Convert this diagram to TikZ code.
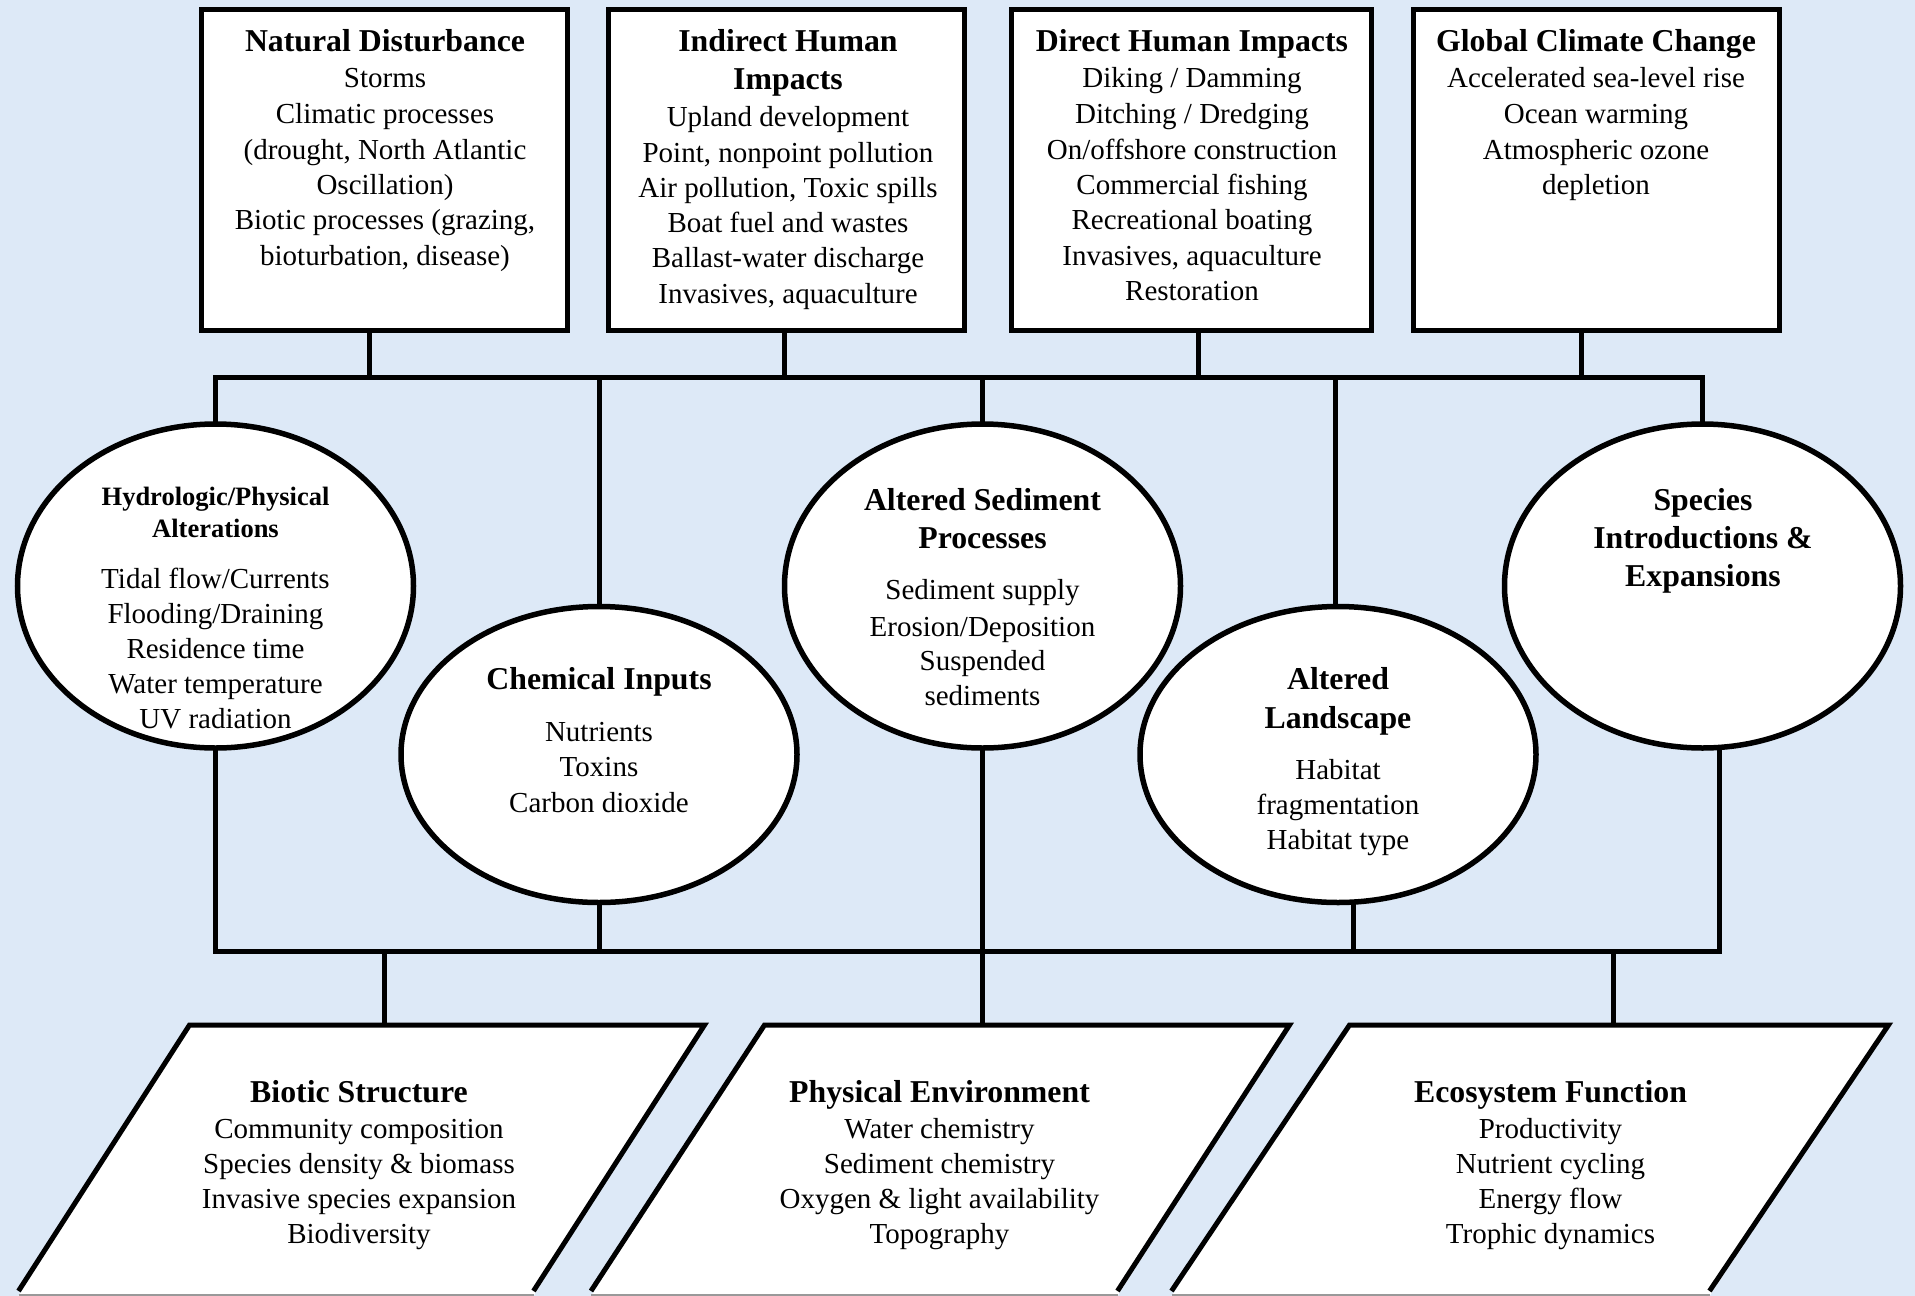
\documentclass[tikz,border=0pt]{standalone}
\usepackage{fontspec}
\setmainfont{Liberation Serif}
\usetikzlibrary{shapes.geometric}
\definecolor{bgblue}{RGB}{221,233,247}
\newcounter{lnc}
\newcommand\tline[4]{\stepcounter{lnc}\node[#1] (ln\arabic{lnc}) at (#2,#3) {#4};}
\begin{document}
\begin{tikzpicture}[x=1pt,y=-1pt,
  conn/.style={line width=5pt},
  boxnode/.style={draw,line width=5pt,fill=white,rectangle,inner sep=0pt,outer sep=0pt},
  ell/.style={draw,line width=5.5pt,fill=white,ellipse,inner sep=0pt,outer sep=0pt},
  body/.style={anchor=base,inner sep=0pt,font=\fontsize{29}{35}\selectfont},
  head/.style={anchor=base,inner sep=0pt,font=\fontsize{31.8}{38}\selectfont\bfseries},
  headsm/.style={anchor=base,inner sep=0pt,font=\fontsize{26.5}{32}\selectfont\bfseries},
  para/.style={draw,line width=5pt,line join=miter},
  parafill/.style={fill=white},
  edge/.style={draw=gray!80,line width=1.5pt}]
\useasboundingbox (0,0) rectangle (1915,1296);
\clip (0,0) rectangle (1915,1296);
\fill[bgblue] (0,0) rectangle (1915,1296);

% ---------- top boxes ----------
\node[boxnode,minimum width=366pt,minimum height=321pt] (b1) at (384.5,170) {};
\node[boxnode,minimum width=356pt,minimum height=321pt] (b2) at (786.5,170) {};
\node[boxnode,minimum width=360pt,minimum height=321pt] (b3) at (1191.5,170) {};
\node[boxnode,minimum width=366pt,minimum height=321pt] (b4) at (1596.5,170) {};

% ---------- ellipses ----------
\node[ell,minimum width=396pt,minimum height=324pt] (hydro) at (215.5,586) {};
\node[ell,minimum width=396pt,minimum height=296pt] (chem) at (599,754.5) {};
\node[ell,minimum width=396pt,minimum height=324pt] (sed) at (982.5,586) {};
\node[ell,minimum width=396pt,minimum height=296pt] (land) at (1338,754.5) {};
\node[ell,minimum width=396pt,minimum height=324pt] (spec) at (1702.5,586) {};

% ---------- bus coordinates ----------
\coordinate (t1) at (369.5,377.5);
\coordinate (t2) at (784,377.5);
\coordinate (t3) at (1198,377.5);
\coordinate (t4) at (1581,377.5);
\coordinate (d1) at (215.5,377.5);
\coordinate (d2) at (599,377.5);
\coordinate (d3) at (982.5,377.5);
\coordinate (d4) at (1335,377.5);
\coordinate (d5) at (1702.5,377.5);
\coordinate (e1) at (215.5,951);
\coordinate (e2) at (599,951);
\coordinate (e3) at (982.5,951);
\coordinate (e4) at (1353,951);
\coordinate (e5) at (1719,951);
\coordinate (f1) at (384.5,951);
\coordinate (f3) at (1613,951);

% ---------- parallelograms ----------
\coordinate (p1tl) at (189.5,1025); \coordinate (p1tr) at (704.5,1025);
\coordinate (p1br) at (533.5,1296); \coordinate (p1bl) at (18.5,1296);
\coordinate (p2tl) at (764.5,1025); \coordinate (p2tr) at (1289.5,1025);
\coordinate (p2br) at (1117.5,1296); \coordinate (p2bl) at (591,1296);
\coordinate (p3tl) at (1349.5,1025); \coordinate (p3tr) at (1888.5,1025);
\coordinate (p3br) at (1709.5,1296); \coordinate (p3bl) at (1171.5,1296);
\coordinate (p1top) at (384.5,1025);
\coordinate (p2top) at (982.5,1025);
\coordinate (p3top) at (1613,1025);

\fill[parafill] (p1bl) -- (p1tl) -- (p1tr) -- (p1br) -- cycle;
\fill[parafill] (p2bl) -- (p2tl) -- (p2tr) -- (p2br) -- cycle;
\fill[parafill] (p3bl) -- (p3tl) -- (p3tr) -- (p3br) -- cycle;
\draw[para] ([yshift=5pt]p1bl) -- (p1tl) -- (p1tr) -- ([yshift=5pt]p1br);
\draw[para] ([yshift=5pt]p2bl) -- (p2tl) -- (p2tr) -- ([yshift=5pt]p2br);
\draw[para] ([yshift=5pt]p3bl) -- (p3tl) -- (p3tr) -- ([yshift=5pt]p3br);
\draw[edge] ([yshift=1pt]p1bl) -- ([yshift=1pt]p1br);
\draw[edge] ([yshift=1pt]p2bl) -- ([yshift=1pt]p2br);
\draw[edge] ([yshift=1pt]p3bl) -- ([yshift=1pt]p3br);

% ---------- connectors ----------
\draw[conn] (t1 |- b1.south) -- (t1);
\draw[conn] (t2 |- b2.south) -- (t2);
\draw[conn] (t3 |- b3.south) -- (t3);
\draw[conn] (t4 |- b4.south) -- (t4);
\draw[conn,line join=miter] (hydro.north) -- (d1) -- (d5) -- (spec.north);
\draw[conn] (d2) -- (d2 |- chem.north);
\draw[conn] (d3) -- (sed.north);
\draw[conn] (d4) -- (d4 |- land.north);
\draw[conn,line join=miter] (hydro.south) -- (e1) -- (e5) -- (e5 |- spec.south);
\draw[conn] (chem.south) -- (e2);
\draw[conn] (e4 |- land.south) -- (e4);
\draw[conn] (sed.south) -- (p2top);
\draw[conn] (f1) -- (p1top);
\draw[conn] (f3) -- (p3top);

% ---------- texts: top boxes ----------
\tline{head}{385}{51}{Natural Disturbance}
\tline{body}{385}{87}{Storms}
\tline{body}{385}{123}{Climatic processes}
\tline{body}{385}{159}{(drought, North Atlantic}
\tline{body}{385}{194}{Oscillation)}
\tline{body}{385}{229}{Biotic processes (grazing,}
\tline{body}{385}{265}{bioturbation, disease)}

\tline{head}{788}{51}{Indirect Human}
\tline{head}{788}{89}{Impacts}
\tline{body}{788}{126}{Upland development}
\tline{body}{788}{162}{Point, nonpoint pollution}
\tline{body}{788}{197}{Air pollution, Toxic spills}
\tline{body}{788}{232}{Boat fuel and wastes}
\tline{body}{788}{267}{Ballast-water discharge}
\tline{body}{788}{303}{Invasives, aquaculture}

\tline{head}{1192}{51}{Direct Human Impacts}
\tline{body}{1192}{87}{Diking / Damming}
\tline{body}{1192}{123}{Ditching / Dredging}
\tline{body}{1192}{159}{On/offshore construction}
\tline{body}{1192}{194}{Commercial fishing}
\tline{body}{1192}{229}{Recreational boating}
\tline{body}{1192}{265}{Invasives, aquaculture}
\tline{body}{1192}{300}{Restoration}

\tline{head}{1596}{51}{Global Climate Change}
\tline{body}{1596}{87}{Accelerated sea-level rise}
\tline{body}{1596}{123}{Ocean warming}
\tline{body}{1596}{159}{Atmospheric ozone}
\tline{body}{1596}{194}{depletion}

% ---------- texts: ellipses ----------
\tline{headsm}{215.5}{505}{Hydrologic/Physical}
\tline{headsm}{215.5}{537}{Alterations}
\tline{body}{215.5}{588}{Tidal flow/Currents}
\tline{body}{215.5}{623}{Flooding/Draining}
\tline{body}{215.5}{658}{Residence time}
\tline{body}{215.5}{693}{Water temperature}
\tline{body}{215.5}{728}{UV radiation}

\tline{head}{599}{689}{Chemical Inputs}
\tline{body}{599}{741}{Nutrients}
\tline{body}{599}{776.5}{Toxins}
\tline{body}{599}{812}{Carbon dioxide}

\tline{head}{982.5}{510}{Altered Sediment}
\tline{head}{982.5}{548}{Processes}
\tline{body}{982.5}{599}{Sediment supply}
\tline{body}{982.5}{636}{Erosion/Deposition}
\tline{body}{982.5}{670}{Suspended}
\tline{body}{982.5}{705}{sediments}

\tline{head}{1338}{689}{Altered}
\tline{head}{1338}{728}{Landscape}
\tline{body}{1338}{779}{Habitat}
\tline{body}{1338}{814}{fragmentation}
\tline{body}{1338}{849}{Habitat type}

\tline{head}{1703}{510}{Species}
\tline{head}{1703}{548}{Introductions \&}
\tline{head}{1703}{586}{Expansions}

% ---------- texts: parallelograms ----------
\tline{head}{359}{1102}{Biotic Structure}
\tline{body}{359}{1138}{Community composition}
\tline{body}{359}{1173}{Species density \& biomass}
\tline{body}{359}{1208}{Invasive species expansion}
\tline{body}{359}{1243}{Biodiversity}

\tline{head}{939.5}{1102}{Physical Environment}
\tline{body}{939.5}{1138}{Water chemistry}
\tline{body}{939.5}{1173}{Sediment chemistry}
\tline{body}{939.5}{1208}{Oxygen \& light availability}
\tline{body}{939.5}{1243}{Topography}

\tline{head}{1550.5}{1102}{Ecosystem Function}
\tline{body}{1550.5}{1138}{Productivity}
\tline{body}{1550.5}{1173}{Nutrient cycling}
\tline{body}{1550.5}{1208}{Energy flow}
\tline{body}{1550.5}{1243}{Trophic dynamics}
\end{tikzpicture}
\end{document}
